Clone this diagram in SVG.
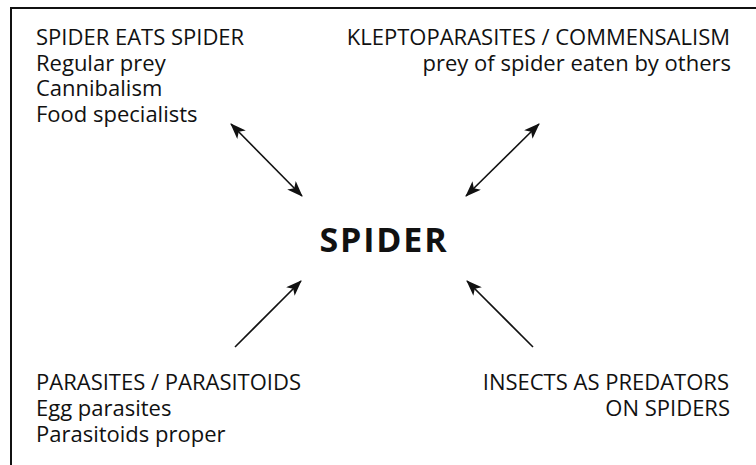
<svg xmlns="http://www.w3.org/2000/svg" width="756" height="465" viewBox="0 0 756 465">
<style>
.t{font-family:"Open Sans","Noto Sans",sans-serif;font-size:22px;fill:#111}
.r{text-anchor:end}
.b{font-family:"Open Sans","Noto Sans",sans-serif;font-size:34px;font-weight:bold;fill:#111;text-anchor:middle;letter-spacing:1.8px}
.c{stroke:#111;stroke-width:1.6;fill:none}
</style>
<defs>
<marker id="ah" viewBox="0 0 16 12" refX="15" refY="6" markerWidth="16" markerHeight="12" markerUnits="userSpaceOnUse" orient="auto-start-reverse">
<path d="M0,0 L16,6 L0,12 L4,6 Z" fill="#111"/>
</marker>
</defs>
<rect width="756" height="465" fill="#fff"/>
<path d="M11,465 V8 H756" fill="none" stroke="#111" stroke-width="2"/>
<g id="node-spider"><text class="b" x="384" y="252">SPIDER</text></g>
<g id="node-spider-eats-spider">
<text class="t" x="36" y="45">SPIDER EATS SPIDER</text>
<text class="t" x="36" y="70.5">Regular prey</text>
<text class="t" x="36" y="96">Cannibalism</text>
<text class="t" x="36" y="121.5">Food specialists</text>
</g>
<g id="node-klepto">
<text class="t r" x="730" y="45">KLEPTOPARASITES / COMMENSALISM</text>
<text class="t r" x="731" y="70.5">prey of spider eaten by others</text>
</g>
<g id="node-parasites">
<text class="t" x="36" y="390">PARASITES / PARASITOIDS</text>
<text class="t" x="36" y="416">Egg parasites</text>
<text class="t" x="36" y="442">Parasitoids proper</text>
</g>
<g id="node-insects">
<text class="t r" x="729" y="390">INSECTS AS PREDATORS</text>
<text class="t r" x="730" y="416">ON SPIDERS</text>
</g>
<g id="connectors">
<line class="c" x1="231" y1="124" x2="302" y2="196" marker-start="url(#ah)" marker-end="url(#ah)"/>
<line class="c" x1="539" y1="124" x2="466" y2="196" marker-start="url(#ah)" marker-end="url(#ah)"/>
<line class="c" x1="235" y1="347" x2="301" y2="281" marker-end="url(#ah)"/>
<line class="c" x1="533" y1="347" x2="467" y2="281" marker-end="url(#ah)"/>
</g>
</svg>
